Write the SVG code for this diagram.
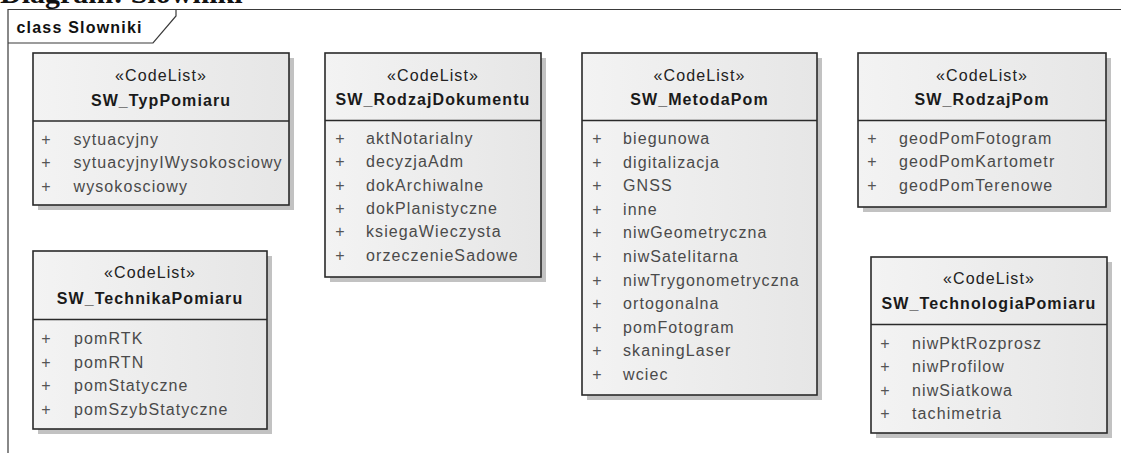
<svg xmlns="http://www.w3.org/2000/svg" width="1121" height="453" viewBox="0 0 1121 453">
<style>
.title{font-family:"Liberation Serif",serif;font-weight:bold;font-size:30px;fill:#111}
.frame{fill:none;stroke:#3a3a3a;stroke-width:1.2}
.flabel{font-family:"Liberation Sans",Arial,sans-serif;font-weight:bold;font-size:16px;fill:#111;letter-spacing:1.2px}
.shadow{fill:#c2c2c2}
.box{fill:url(#g);stroke:#2a2a2a;stroke-width:1.6}
.sep{stroke:#2a2a2a;stroke-width:1.6}
.st{font-family:"Liberation Sans",Arial,sans-serif;font-size:16px;fill:#222;text-anchor:middle;letter-spacing:1.1px}
.nm{font-family:"Liberation Sans",Arial,sans-serif;font-size:16px;font-weight:bold;fill:#1a1a1a;text-anchor:middle;letter-spacing:1.1px}
.pl{font-family:"Liberation Sans",Arial,sans-serif;font-size:16px;fill:#555;text-anchor:middle}
.at{font-family:"Liberation Sans",Arial,sans-serif;font-size:16px;fill:#4a4a4a;letter-spacing:1.1px}
</style>
<defs>
<linearGradient id="g" x1="0" y1="0" x2="1" y2="0">
<stop offset="0" stop-color="#f3f3f3"/>
<stop offset="1" stop-color="#e6e6e6"/>
</linearGradient>
</defs>
<rect width="1121" height="453" fill="#ffffff"/>
<text class="title" x="0" y="3">Diagram: Slowniki</text>
<g id="frame">
<path class="frame" d="M8,453 V9.5 H1121"/>
<path class="frame" d="M8,43 H153 L176,16 V9.5"/>
<text class="flabel" x="16.5" y="33">class Slowniki</text>
</g>
<g id="connectors"></g>
<g id="SW_TypPomiaru">
<rect class="shadow" x="38" y="58" width="256" height="152"/>
<rect class="box" x="33" y="53" width="256" height="152"/>
<line class="sep" x1="33" y1="121" x2="289" y2="121"/>
<text class="st" x="161" y="80.5">«CodeList»</text>
<text class="nm" x="161" y="105.5">SW_TypPomiaru</text>
<text class="pl" x="46" y="144.5">+</text><text class="at" x="73.5" y="144.5">sytuacyjny</text>
<text class="pl" x="46" y="168">+</text><text class="at" x="73.5" y="168">sytuacyjnyIWysokosciowy</text>
<text class="pl" x="46" y="191.5">+</text><text class="at" x="73.5" y="191.5">wysokosciowy</text>
</g>
<g id="SW_RodzajDokumentu">
<rect class="shadow" x="330" y="58" width="216" height="224"/>
<rect class="box" x="325" y="53" width="216" height="224"/>
<line class="sep" x1="325" y1="120.5" x2="541" y2="120.5"/>
<text class="st" x="433" y="80.5">«CodeList»</text>
<text class="nm" x="433" y="104.5">SW_RodzajDokumentu</text>
<text class="pl" x="340" y="144">+</text><text class="at" x="366" y="144">aktNotarialny</text>
<text class="pl" x="340" y="167.3">+</text><text class="at" x="366" y="167.3">decyzjaAdm</text>
<text class="pl" x="340" y="190.6">+</text><text class="at" x="366" y="190.6">dokArchiwalne</text>
<text class="pl" x="340" y="213.9">+</text><text class="at" x="366" y="213.9">dokPlanistyczne</text>
<text class="pl" x="340" y="237.2">+</text><text class="at" x="366" y="237.2">ksiegaWieczysta</text>
<text class="pl" x="340" y="260.5">+</text><text class="at" x="366" y="260.5">orzeczenieSadowe</text>
</g>
<g id="SW_MetodaPom">
<rect class="shadow" x="587" y="58" width="235" height="342"/>
<rect class="box" x="582" y="53" width="235" height="342"/>
<line class="sep" x1="582" y1="120.5" x2="817" y2="120.5"/>
<text class="st" x="699.5" y="80.5">«CodeList»</text>
<text class="nm" x="699.5" y="104.5">SW_MetodaPom</text>
<text class="pl" x="597" y="144">+</text><text class="at" x="623" y="144">biegunowa</text>
<text class="pl" x="597" y="167.6">+</text><text class="at" x="623" y="167.6">digitalizacja</text>
<text class="pl" x="597" y="191.2">+</text><text class="at" x="623" y="191.2">GNSS</text>
<text class="pl" x="597" y="214.8">+</text><text class="at" x="623" y="214.8">inne</text>
<text class="pl" x="597" y="238.4">+</text><text class="at" x="623" y="238.4">niwGeometryczna</text>
<text class="pl" x="597" y="262">+</text><text class="at" x="623" y="262">niwSatelitarna</text>
<text class="pl" x="597" y="285.6">+</text><text class="at" x="623" y="285.6">niwTrygonometryczna</text>
<text class="pl" x="597" y="309.2">+</text><text class="at" x="623" y="309.2">ortogonalna</text>
<text class="pl" x="597" y="332.8">+</text><text class="at" x="623" y="332.8">pomFotogram</text>
<text class="pl" x="597" y="356.4">+</text><text class="at" x="623" y="356.4">skaningLaser</text>
<text class="pl" x="597" y="380">+</text><text class="at" x="623" y="380">wciec</text>
</g>
<g id="SW_RodzajPom">
<rect class="shadow" x="863" y="58" width="248" height="154"/>
<rect class="box" x="858" y="53" width="248" height="154"/>
<line class="sep" x1="858" y1="120.5" x2="1106" y2="120.5"/>
<text class="st" x="982" y="80.5">«CodeList»</text>
<text class="nm" x="982" y="104.5">SW_RodzajPom</text>
<text class="pl" x="872" y="143.5">+</text><text class="at" x="899" y="143.5">geodPomFotogram</text>
<text class="pl" x="872" y="167.3">+</text><text class="at" x="899" y="167.3">geodPomKartometr</text>
<text class="pl" x="872" y="191.1">+</text><text class="at" x="899" y="191.1">geodPomTerenowe</text>
</g>
<g id="SW_TechnikaPomiaru">
<rect class="shadow" x="38" y="256" width="234" height="178"/>
<rect class="box" x="33" y="251" width="234" height="178"/>
<line class="sep" x1="33" y1="319.5" x2="267" y2="319.5"/>
<text class="st" x="150" y="278">«CodeList»</text>
<text class="nm" x="150" y="303.5">SW_TechnikaPomiaru</text>
<text class="pl" x="46" y="344">+</text><text class="at" x="74" y="344">pomRTK</text>
<text class="pl" x="46" y="367.5">+</text><text class="at" x="74" y="367.5">pomRTN</text>
<text class="pl" x="46" y="391">+</text><text class="at" x="74" y="391">pomStatyczne</text>
<text class="pl" x="46" y="414.5">+</text><text class="at" x="74" y="414.5">pomSzybStatyczne</text>
</g>
<g id="SW_TechnologiaPomiaru">
<rect class="shadow" x="876" y="262" width="236" height="176"/>
<rect class="box" x="871" y="257" width="236" height="176"/>
<line class="sep" x1="871" y1="324.5" x2="1107" y2="324.5"/>
<text class="st" x="989" y="284">«CodeList»</text>
<text class="nm" x="989" y="309">SW_TechnologiaPomiaru</text>
<text class="pl" x="885" y="348.5">+</text><text class="at" x="912" y="348.5">niwPktRozprosz</text>
<text class="pl" x="885" y="372">+</text><text class="at" x="912" y="372">niwProfilow</text>
<text class="pl" x="885" y="395.5">+</text><text class="at" x="912" y="395.5">niwSiatkowa</text>
<text class="pl" x="885" y="419">+</text><text class="at" x="912" y="419">tachimetria</text>
</g>
</svg>
